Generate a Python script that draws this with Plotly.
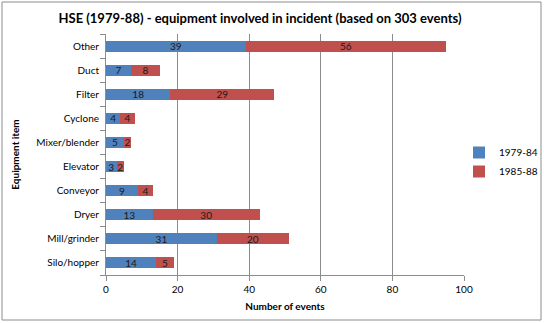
import plotly.graph_objects as go

categories = ["Silo/hopper", "Mill/grinder", "Dryer", "Conveyor", "Elevator",
              "Mixer/blender", "Cyclone", "Filter", "Duct", "Other"]
series_1979_84 = [14, 31, 13, 9, 3, 5, 4, 18, 7, 39]
series_1985_88 = [5, 20, 30, 4, 2, 2, 4, 29, 8, 56]
x_ticks = [0, 20, 40, 60, 80, 100]

FONT = "Lato, 'Liberation Sans', Arial, sans-serif"
FS = 10

fig = go.Figure()
fig.add_trace(go.Bar(
    y=categories, x=series_1979_84, orientation="h", name="1979-84",
    marker=dict(color="#4F81BD", line=dict(width=0)),
    text=series_1979_84, textposition="inside", insidetextanchor="middle", textangle=0,
    textfont=dict(color="#1a1a1a", size=FS, family=FONT), constraintext="none",
))
fig.add_trace(go.Bar(
    y=categories, x=series_1985_88, orientation="h", name="1985-88",
    marker=dict(color="#C0504D", line=dict(width=0)),
    text=series_1985_88, textposition="inside", insidetextanchor="middle", textangle=0,
    textfont=dict(color="#1a1a1a", size=FS, family=FONT), constraintext="none",
))

W, H = 544, 323
L, R, T, B = 106, 3, 34, 48
plot_right = 464
pw, ph = W - L - R, H - T - B

def px(x):
    return (x - L) / pw

def py(y):
    return (H - B - y) / ph

fig.update_layout(
    width=W, height=H,
    margin=dict(l=L, r=R, t=T, b=B, pad=0, autoexpand=False),
    barmode="stack", bargap=0.54,
    paper_bgcolor="white", plot_bgcolor="white",
    font=dict(family=FONT, size=FS, color="#000"),
    uniformtext=dict(minsize=FS, mode="show"),
    title=dict(text="<b>HSE (1979-88) - equipment involved in incident (based on 303 events)</b>",
               x=260 / W, xanchor="center", y=1 - 18 / H, yanchor="middle",
               font=dict(size=13, family=FONT, color="#000")),
    showlegend=True,
    legend=dict(x=px(459), xanchor="left", y=py(162), yanchor="middle",
                traceorder="normal", font=dict(size=FS, family=FONT),
                itemwidth=30, tracegroupgap=6, bgcolor="rgba(0,0,0,0)"),
    xaxis=dict(domain=[0, px(plot_right)], range=[0, 100], tickvals=x_ticks,
               showgrid=True, gridcolor="#8c8c8c",
               gridwidth=1, showline=True, linecolor="#8c8c8c", ticks="outside",
               ticklen=5, tickcolor="#8c8c8c", zeroline=False,
               tickfont=dict(size=FS, family=FONT),
               title=dict(text="<b>Number of events</b>", standoff=8,
                          font=dict(size=FS, family=FONT))),
    yaxis=dict(showgrid=False, showline=True, linecolor="#8c8c8c", ticks="outside",
               tickson="boundaries", ticklen=5, tickcolor="#8c8c8c",
               tickfont=dict(size=FS, family=FONT), ticklabelstandoff=4,
               title=dict(text="<b>Equipment item</b>", standoff=14,
                          font=dict(size=FS, family=FONT))),
    shapes=[dict(type="rect", xref="paper", yref="paper",
                 x0=px(2), x1=px(541), y0=py(320), y1=py(2),
                 line=dict(color="#8c8c8c", width=1), fillcolor="rgba(0,0,0,0)",
                 layer="below")],
)

fig.write_html("out.html")
